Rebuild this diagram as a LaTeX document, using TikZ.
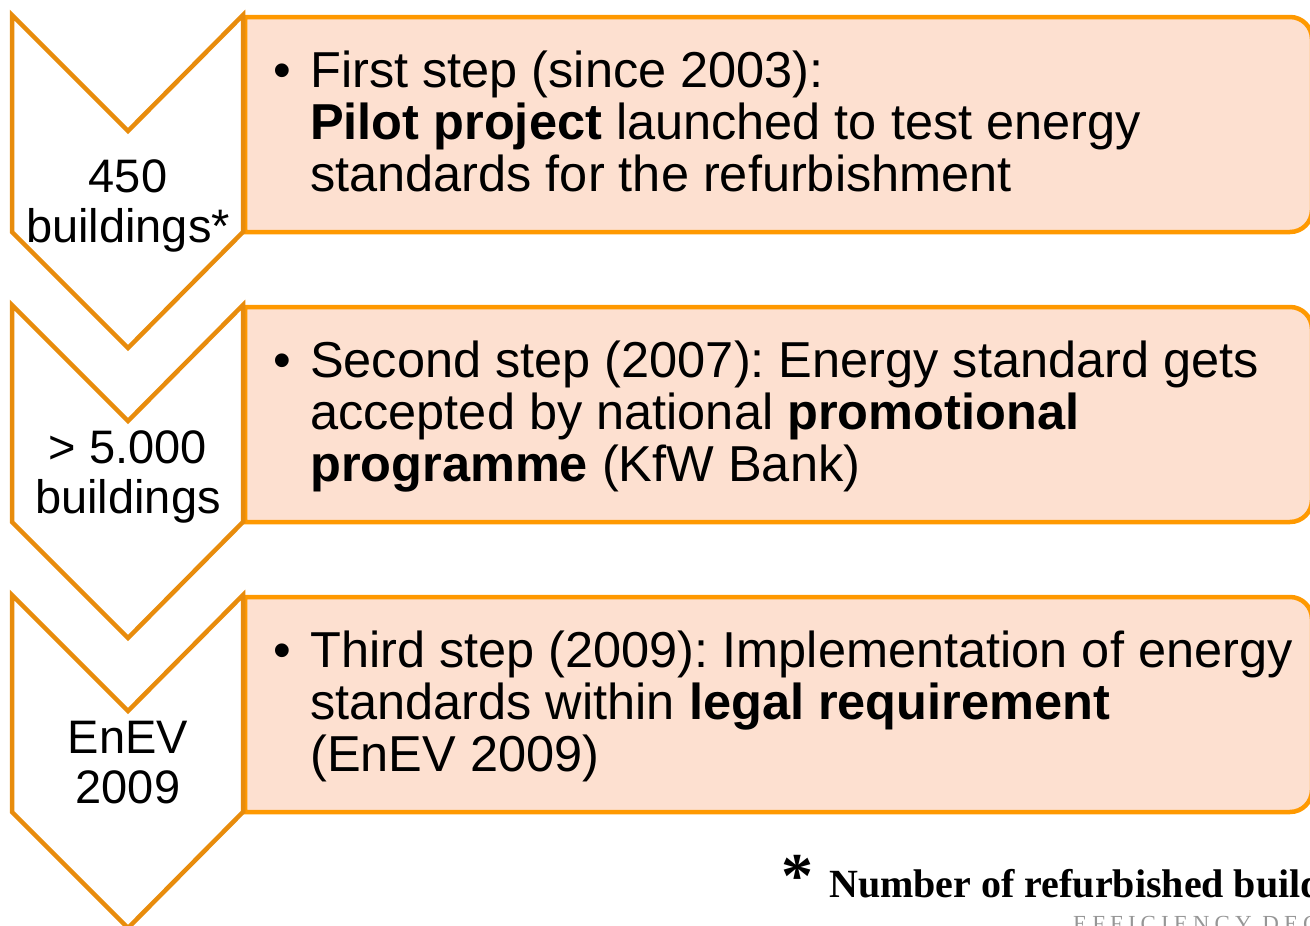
\documentclass[tikz,border=0pt]{standalone}
\usepackage{fontspec}
\setmainfont{Liberation Sans}
\newfontfamily\serifnote{Liberation Serif}
\newfontfamily\trackfont[LetterSpace=22]{Liberation Serif}
\definecolor{chevorange}{RGB}{232,140,12}
\definecolor{boxorange}{RGB}{255,153,0}
\definecolor{boxfill}{RGB}{253,224,208}
\definecolor{footgray}{RGB}{150,150,150}
\tikzset{
  chevron/.style={draw=chevorange, line width=4.5pt, fill=white, line join=miter},
  panel/.style={draw=boxorange, line width=4.5pt, fill=boxfill},
  steptext/.style={anchor=base west, inner sep=0pt, align=left, font=\fontsize{50.5}{52}\selectfont},
  chevtext/.style={anchor=base, inner sep=0pt, align=center, font=\fontsize{47}{50}\selectfont},
  notetext/.style={anchor=base west, inner sep=0pt, font=\serifnote\bfseries\fontsize{40}{40}\selectfont},
  brandtext/.style={anchor=base west, inner sep=0pt, text=footgray, font=\trackfont\fontsize{23}{23}\selectfont}
}
\newcommand\bul{\llap{\makebox[37pt][l]{•}}}
\frenchspacing
\begin{document}
\frenchspacing
\begin{tikzpicture}[x=1pt,y=-1pt]
\useasboundingbox (0,0) rectangle (1310,926);
\clip (0,0) rectangle (1310,926);
% row 1
\begin{scope}[shift={(0,0)}]
  \path[panel] (245,17) -- (1290,17) arc[start angle=90,end angle=0,radius=22pt] -- (1312,210) arc[start angle=0,end angle=-90,radius=22pt] -- (245,232) -- cycle;
  \path[chevron] (12,15) -- (128,131) -- (243,15) -- (243,232) -- (128,348) -- (12,232) -- cycle;
\end{scope}
% row 2
\begin{scope}[shift={(0,290)}]
  \path[panel] (245,17) -- (1290,17) arc[start angle=90,end angle=0,radius=22pt] -- (1312,210) arc[start angle=0,end angle=-90,radius=22pt] -- (245,232) -- cycle;
  \path[chevron] (12,15) -- (128,131) -- (243,15) -- (243,232) -- (128,348) -- (12,232) -- cycle;
\end{scope}
% row 3
\begin{scope}[shift={(0,580)}]
  \path[panel] (245,17) -- (1290,17) arc[start angle=90,end angle=0,radius=22pt] -- (1312,210) arc[start angle=0,end angle=-90,radius=22pt] -- (245,232) -- cycle;
  \path[chevron] (12,15) -- (128,131) -- (243,15) -- (243,232) -- (128,348) -- (12,232) -- cycle;
\end{scope}
% chevron labels (base anchor = last line)
\node[chevtext] (c1) at (128,242) {450\\buildings*};
\node[chevtext] (c2) at (128,513) {> 5.000\\buildings};
\node[chevtext] (c3) at (128,803) {EnEV\\2009};
% panel texts (base anchor = last line)
\node[steptext] (t1) at (310,191) {\bul First step (since 2003):\\\textbf{Pilot project} launched to test energy\\standards for the refurbishment};
\node[steptext] (t2) at (310,481) {\bul Second step (2007): Energy standard gets\\accepted by national \textbf{promotional}\\\textbf{programme} (KfW Bank)};
\node[steptext] (t3) at (310,771) {\bul Third step (2009): Implementation of energy\\standards within \textbf{legal requirement}\\(EnEV 2009)};
% footnote
\node[notetext] (fn) at (781,897) {{\fontsize{64}{64}\selectfont *}\hspace{16pt}Number of refurbished buildings};
\node[brandtext] (brand) at (1073,931) {EFFICIENCY DEG};
\end{tikzpicture}
\end{document}
